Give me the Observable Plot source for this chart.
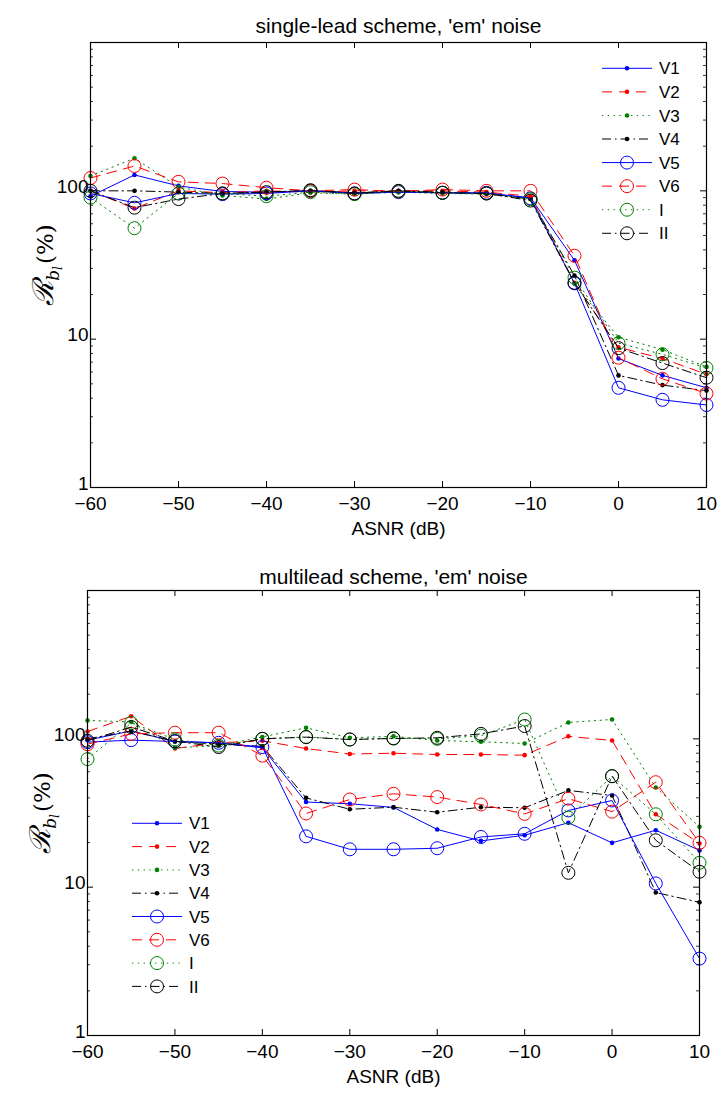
<!DOCTYPE html>
<html><head><meta charset="utf-8">
<script src="https://cdn.jsdelivr.net/npm/d3@7"></script>
<script src="https://cdn.jsdelivr.net/npm/@observablehq/plot@0.6"></script>
<style>
body{margin:0;background:#fff;}
#wrap{position:relative;width:720px;height:1094px;overflow:hidden;background:#fff;}
#wrap > svg, #wrap > div{position:absolute;left:0;}
</style></head><body><div id="wrap"></div>
<script>
// ---------- data ----------
const asnr = [-60,-55,-50,-45,-40,-35,-30,-25,-20,-15,-10,-5,0,5,10];
const leads = ["V1","V2","V3","V4","V5","V6","I","II"];
const xTicks = [-60,-50,-40,-30,-20,-10,0,10];
const yTickLabels = [1,10,100];
const titles = ["single-lead scheme, 'em' noise", "multilead scheme, 'em' noise"];
const xLabel = "ASNR (dB)";

// single-lead scheme (top panel), R_bl in %
const singleV1 = [92,128,108,99,98,100,97,98,97,96,90,34,7.4,5.7,4.7];
const singleV2 = [100,76,100,97,100,98,100,100,100,98,92,24,8.8,7.4,5.8];
const singleV3 = [126,166,106,93,88,97,95,98,96,95,88,23.6,10.3,8.5,6.5];
const singleV4 = [100,100,98,96,98,100,97,100,98,96,88,26.8,5.7,4.9,4.5];
const singleV5 = [96,83,96,95,96,100,96,98,97,97,89,23.8,4.7,3.9,3.6];
const singleV6 = [122,147,115,112,105,100,102,99,102,100,100,36.5,7.5,5.4,4.3];
const singleI  = [90,56,96,96,92,98,95,99,97,96,88,26,9.4,7.9,6.4];
const singleII = [100,77,88,96,98,101,96,100,97,96,86,24,8.7,6.9,5.5];

// multilead scheme (bottom panel)
const multiV1 = [98,113,96,94,87,37.5,36.5,34.5,24.5,20.5,22.4,27.2,19.9,24.2,17.7];
const multiV2 = [112,142,86,94,97,86,79,80,78.4,78.4,77.6,104,97.5,31,19.7];
const multiV3 = [133,130,87,90,103,118.6,101.5,104,97.5,95.5,93,129,135,47,25.5];
const multiV4 = [100,113,96,92,89,40,33.5,34.6,32,34.6,34.3,44.9,41.5,9.2,7.9];
const multiV5 = [95,98,96,94,88,22,18,18,18.3,21.8,22.9,32.9,38.4,10.6,3.3];
const multiV6 = [92,108,110,110,77,31.4,39,42.6,40.5,36.1,31.2,39.5,32.3,51,19.9];
const multiI  = [73,128,99,90,100,103,99,101,100,105,135,29.4,56,31,14.6];
const multiII = [97,120,96.5,88,100,102.6,99,100.5,101.6,108,122,12.5,56,20.7,12.7];

const singleSeries = [singleV1,singleV2,singleV3,singleV4,singleV5,singleV6,singleI,singleII];
const multiSeries  = [multiV1,multiV2,multiV3,multiV4,multiV5,multiV6,multiI,multiII];

// ---------- styles ----------
const style = {
  V1:{color:"#0000ff", dash:null,        marker:"dot"},
  V2:{color:"#ff0000", dash:"10,7",      marker:"dot"},
  V3:{color:"#008000", dash:"1.3,4.5",   marker:"dot"},
  V4:{color:"#000000", dash:"9,4,1.5,4", marker:"dot"},
  V5:{color:"#0000ff", dash:null,        marker:"circle"},
  V6:{color:"#ff0000", dash:"10,7",      marker:"circle"},
  I: {color:"#008000", dash:"1.3,4.5",   marker:"circle"},
  II:{color:"#000000", dash:"9,4,1.5,4", marker:"circle"}
};
const FONT = "'Liberation Sans', Arial, Helvetica, sans-serif";
const minorY = d3.range(0,3).flatMap(e => d3.range(2,10).map(m => m*Math.pow(10,e)));
const majorY = [1,10,100,1000];

function build(cfg){
  const {series, top, height, mt, mb, ml, mr, title, titleDy} = cfg;
  const width = 720;
  const fw = width - ml - mr, fh = height - mt - mb;
  const rows = leads.map((l,i)=> asnr.map((x,j)=>({lead:l, x, y: series[i][j]})));
  const marks = [
    Plot.tickY(minorY, {y:d=>d, insetRight: fw-3, stroke:"#000", strokeWidth:0.8}),
    Plot.tickY(minorY, {y:d=>d, insetLeft: fw-3, stroke:"#000", strokeWidth:0.8}),
    Plot.tickY(majorY, {y:d=>d, insetRight: fw-6, stroke:"#000", strokeWidth:1}),
    Plot.tickY(majorY, {y:d=>d, insetLeft: fw-6, stroke:"#000", strokeWidth:1}),
    Plot.tickX(xTicks, {x:d=>d, insetTop: fh-6, stroke:"#000", strokeWidth:1}),
    Plot.tickX(xTicks, {x:d=>d, insetBottom: fh-6, stroke:"#000", strokeWidth:1}),
  ];
  leads.forEach((l,i)=>{
    const s = style[l];
    const lo = {x:"x", y:"y", stroke:s.color, strokeWidth:1};
    if (s.dash) lo.strokeDasharray = s.dash;
    marks.push(Plot.line(rows[i], lo));
    if (s.marker === "dot") marks.push(Plot.dot(rows[i], {x:"x", y:"y", r:2.3, fill:s.color, stroke:"none"}));
    else marks.push(Plot.dot(rows[i], {x:"x", y:"y", r:6.5, fill:"none", stroke:s.color, strokeWidth:1}));
  });
  marks.push(
    Plot.frame({stroke:"#000", strokeWidth:1.2}),
    Plot.axisX({ticks: xTicks, tickSize:0, tickPadding:9, label:null, fontSize:19}),
    Plot.axisY({ticks: yTickLabels, tickSize:0, tickPadding:2, dy:-4, tickFormat:d=>String(d), label:null, fontSize:19}),
    Plot.text([title], {frameAnchor:"top", dy: titleDy, fontSize:21}),
    Plot.text([xLabel], {frameAnchor:"bottom", dy: 47, fontSize:19}),
    Plot.text(["YLBL"], {frameAnchor:"left", textAnchor:"middle", dx:-46, dy:0, rotate:-90, fontSize:26, fontFamily:"'DejaVu Serif', serif"})
  );
  const svg = Plot.plot({
    width, height, marginTop: mt, marginBottom: mb, marginLeft: ml, marginRight: mr,
    x:{domain:[-60,10]},
    y:{type:"log", domain:[1,1000]},
    style:{fontFamily: FONT, fontSize:"19px", background:"transparent", overflow:"visible", color:"#000"},
    marks
  });
  svg.style.top = top + "px";
  d3.select(svg).selectAll("text").filter(function(){ return this.textContent === "YLBL"; })
    .each(function(){
      const t = d3.select(this);
      t.text(null);
      t.append("tspan").attr("font-size", 29).attr("font-style","italic").text("ℛ");
      t.append("tspan").attr("font-size", 17).attr("font-style","italic").attr("dy", 6).text("b");
      t.append("tspan").attr("font-size", 12).attr("font-style","italic").attr("dy", 3).text("l");
      t.append("tspan").attr("font-size", 23).attr("dy", -9).attr("dx", 2).text("(%)");
    });
  return svg;
}

const wrap = document.getElementById("wrap");
wrap.appendChild(build({series: singleSeries, top:0,   height:545, mt:42,  mb:58, ml:90, mr:14, title:titles[0], titleDy:-24}));
wrap.appendChild(build({series: multiSeries,  top:545, height:549, mt:45,  mb:59, ml:87, mr:21, title:titles[1], titleDy:-21}));

// ---------- legends ----------
const ov = d3.select(wrap).append("svg").attr("width",720).attr("height",1094)
  .style("position","absolute").style("top","0px").style("left","0px");
function legend(x0, y0, step){
  leads.forEach((l,i)=>{
    const s = style[l];
    const y = y0 + step*i;
    const g = ov.append("g");
    const ln = g.append("line").attr("x1",x0).attr("x2",x0+50).attr("y1",y).attr("y2",y)
      .attr("stroke",s.color).attr("stroke-width",1);
    if (s.dash) ln.attr("stroke-dasharray", s.dash);
    if (s.marker === "dot") g.append("circle").attr("cx",x0+25).attr("cy",y).attr("r",2.3).attr("fill",s.color);
    else g.append("circle").attr("cx",x0+25).attr("cy",y).attr("r",6.5).attr("fill","none").attr("stroke",s.color);
    g.append("text").attr("x",x0+57).attr("y",y).attr("dy","0.36em").attr("font-size",17)
      .attr("font-family",FONT).text(l);
  });
}
legend(602, 68.3, 23.57);
legend(132, 823.3, 23.3);
</script></body></html>
